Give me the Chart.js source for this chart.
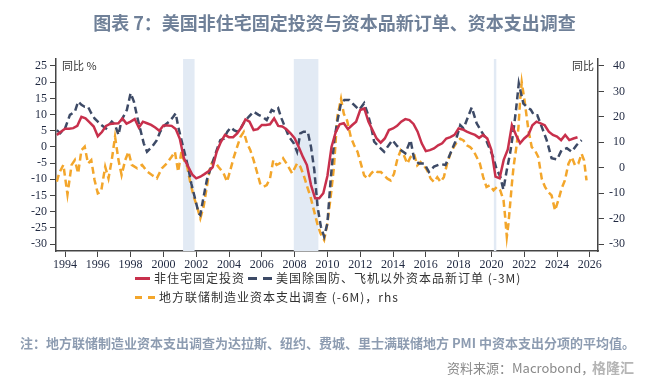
<!DOCTYPE html>
<html>
<head>
<meta charset="utf-8">
<script src="https://cdn.jsdelivr.net/npm/chart.js@4.4.1/dist/chart.umd.min.js"></script>
<style>
    body { margin: 0; background: #fff; }
    #wrap { position: relative; width: 669px; height: 384px; overflow: hidden; font-family: "Noto Sans CJK SC", sans-serif; }
    #capexChart { position: absolute; left: 0; top: 0; }
    .txt { position: absolute; white-space: nowrap; }
    .title { left: 0; top: 9px; width: 669px; text-align: center; font-size: 18px; font-weight: bold; color: #6f8098; }
    .unit { font-size: 11px; color: #333; top: 57px; }
    .leg { font-size: 12px; color: #333; letter-spacing: 1px; }
    .swatch { position: absolute; height: 3px; }
    .note { left: 20px; top: 333px; font-size: 13px; font-weight: bold; color: #8d9cb1; }
    .source { left: 447px; top: 358px; font-size: 13px; color: #8a8a8a; }
    .mark { left: 592px; top: 357px; font-size: 14px; color: #b5b5b5; font-weight: bold; }
</style>
</head>
<body>
<div id="wrap">
    <canvas id="capexChart" width="669" height="384"></canvas>
    <div class="txt title">图表 7：美国非住宅固定投资与资本品新订单、资本支出调查</div>
    <div class="txt unit" style="left:62px">同比 %</div>
    <div class="txt unit" style="left:572px">同比</div>

    <div class="swatch" style="left:135px; top:277px; width:15px; background:#c8304c"></div>
    <div class="txt leg" style="left:154px; top:269px">非住宅固定投资</div>
    <div class="swatch" style="left:248px; top:277px; width:24px; background:repeating-linear-gradient(to right,#3d4a66 0 9px,transparent 9px 15px)"></div>
    <div class="txt leg" style="left:276px; top:269px">美国除国防、飞机以外资本品新订单 (-3M)</div>
    <div class="swatch" style="left:135px; top:296px; width:20px; background:repeating-linear-gradient(to right,#f3a62b 0 7px,transparent 7px 13px)"></div>
    <div class="txt leg" style="left:159px; top:288px">地方联储制造业资本支出调查 (-6M)，rhs</div>

    <div class="txt note">注：地方联储制造业资本支出调查为达拉斯、纽约、费城、里士满联储地方 PMI 中资本支出分项的平均值。</div>
    <div class="txt source">资料来源：Macrobond，</div>
    <div class="txt mark">格隆汇</div>
</div>

<script>

const yearTicks = [1994, 1996, 1998, 2000, 2002, 2004, 2006, 2008, 2010, 2012, 2014, 2016, 2018, 2020, 2022, 2024, 2026];
const leftTicks = [25, 20, 15, 10, 5, 0, -5, -10, -15, -20, -25, -30];
const rightTicks = [40, 30, 20, 10, 0, -10, -20, -30];

const recessionStarts = [2001.2, 2007.95, 2020.15];
const recessionEnds = [2001.9, 2009.45, 2020.3];

// quarterly, from 1993 Q3
const investStart = 1993.5;
const investValues = [
    3.7, 4.7,
    5.6, 5.6, 5.8, 6.5,
    9.3, 8.8, 7.6, 6.3,
    3.3, 4.6, 6.5, 7.1,
    7.2, 7.3, 8.8, 7.2,
    7.8, 8.6, 6.0, 7.8,
    7.3, 6.8, 6.0, 5.0,
    6.6, 6.6, 6.5, 5.5,
    2.5, -3.5, -6.0, -8.5,
    -9.7, -9.2, -8.4, -7.5,
    -6.3, -1.5, 1.5, 3.7,
    3.0, 3.0, 4.2, 6.0,
    8.5, 7.8, 5.2, 5.5,
    6.8, 6.8, 7.0, 8.8,
    6.5, 6.3, 5.5, 4.2,
    2.7, 0.0, -3.0, -5.6,
    -11.8, -15.9, -15.9, -14.3,
    -9.0, 0.0, 4.5, 7.0,
    7.3, 5.5, 6.7, 7.8,
    11.4, 11.9, 7.8, 5.2,
    2.6, 1.3, 2.6, 5.2,
    5.7, 6.5, 7.8, 8.6,
    8.3, 7.1, 4.7, 1.1,
    -1.3, -1.0, -0.5, 0.5,
    1.1, 2.6, 3.0, 3.7,
    5.7, 5.4, 4.7, 4.2,
    3.7, 2.8, 3.7, 2.6,
    -1.0, -9.2, -9.7, -4.0,
    -0.8, 6.7, 3.7, 1.1,
    2.6, 3.7, 6.7, 7.8,
    7.3, 6.7, 4.7, 3.7,
    3.2, 2.1, 3.7, 2.1,
    2.6, 3.0
];

const ordersDates = [
    1993.5, 1993.7, 1994.0, 1994.3, 1994.6, 1994.8, 1995.0, 1995.2, 1995.4, 1995.6, 1995.8,
    1996.0, 1996.2, 1996.5, 1996.85, 1997.05, 1997.26, 1997.45, 1997.77, 1998.0, 1998.2, 1998.4,
    1998.6, 1998.8, 1999.0, 1999.3, 1999.6, 1999.8, 2000.1, 2000.35, 2000.6, 2000.75, 2000.9,
    2001.1, 2001.3, 2001.5, 2001.7, 2001.95, 2002.15, 2002.25, 2002.45, 2002.65, 2002.85,
    2003.05, 2003.25, 2003.47, 2003.7, 2003.9, 2004.1, 2004.3, 2004.5, 2004.7, 2004.95,
    2005.2, 2005.5, 2005.8, 2006.05, 2006.3, 2006.6, 2006.8, 2007.0, 2007.2, 2007.4, 2007.65,
    2007.95, 2008.15, 2008.35, 2008.55, 2008.8, 2009.0, 2009.2, 2009.4, 2009.6, 2009.8, 2010.0,
    2010.2, 2010.42, 2010.6, 2010.83, 2011.03, 2011.33, 2011.64, 2011.94, 2012.24, 2012.45,
    2012.65, 2012.85, 2013.15, 2013.46, 2013.75, 2013.96, 2014.2, 2014.47, 2014.75, 2015.07,
    2015.3, 2015.58, 2015.9, 2016.19, 2016.5, 2016.9, 2017.2, 2017.5, 2017.8, 2018.1, 2018.3,
    2018.5, 2018.8, 2019.1, 2019.4, 2019.6, 2019.8, 2020.1, 2020.3, 2020.54, 2020.73, 2020.94,
    2021.14, 2021.35, 2021.5, 2021.67, 2021.95, 2022.15, 2022.4, 2022.6, 2022.8, 2023.07,
    2023.37, 2023.67, 2024.0, 2024.28, 2024.6, 2024.9, 2025.2, 2025.5
];
const ordersValues = [
    5.2, 4.2, 5.7, 9.9, 10.9, 14.0, 13.0, 12.4, 12.4, 10.4, 8.8,
    7.8, 6.8, 5.7, 7.8, 6.8, 3.7, 8.3, 11.4, 16.6, 14.0, 9.3,
    5.2, 1.1, -1.5, 0.0, 2.1, 4.7, 6.8, 7.8, 9.3, 10.4, 6.3,
    2.1, -2.0, -6.1, -11.3, -16.4, -20.5, -21.0, -15.4, -10.2, -7.1,
    -4.0, -1.0, 2.1, 2.6, 4.7, 6.0, 5.2, 4.7, 5.7, 7.8,
    9.3, 10.9, 9.9, 9.3, 8.3, 11.4, 10.9, 11.9, 8.8, 6.3, 3.2,
    1.1, -1.5, 4.2, 4.7, 4.7, 0.0, -7.1, -18.5, -24.6, -27.7, -23.6,
    -10.0, 2.1, 7.8, 13.5, 14.5, 14.5, 12.9, 11.4, 13.5, 10.4,
    6.7, 1.6, 0.0, -1.5, 0.6, 2.1, 0.6, -1.0, -2.0, 2.1,
    -4.0, -5.1, -5.1, -7.7, -6.1, -5.3, -5.6, -2.0, 1.6, 6.7, 5.7,
    8.3, 12.2, 7.3, 4.7, 3.1, 0.6, -3.0, -6.6, -9.2, -13.2, -7.1,
    -2.0, 5.2, 11.4, 19.6, 13.4, 12.4, 11.5, 9.8, 9.8, 6.2,
    2.1, -3.5, -3.9, -1.0, -0.4, -1.5, 0.6, 2.1
];

const surveyDates = [
    1993.5, 1993.65, 1993.9, 1994.15, 1994.4, 1994.6, 1994.8, 1995.0, 1995.2, 1995.4, 1995.6,
    1995.8, 1996.0, 1996.2, 1996.45, 1996.65, 1996.85, 1997.05, 1997.26, 1997.45, 1997.67, 1997.87,
    1998.07, 1998.4, 1998.7, 1999.0, 1999.3, 1999.6, 1999.9, 2000.2, 2000.5, 2000.7, 2000.9,
    2001.1, 2001.2, 2001.45, 2001.65, 2001.85, 2002.05, 2002.25, 2002.45, 2002.65, 2002.85,
    2003.05, 2003.35, 2003.67, 2003.88, 2004.08, 2004.3, 2004.5, 2004.7, 2004.9, 2005.1, 2005.3,
    2005.5, 2005.7, 2005.9, 2006.1, 2006.3, 2006.5, 2006.7, 2006.9, 2007.1, 2007.3, 2007.5,
    2007.85, 2008.15, 2008.35, 2008.55, 2008.77, 2008.97, 2009.17, 2009.38, 2009.58, 2009.8, 2010.0,
    2010.2, 2010.4, 2010.6, 2010.83, 2011.0, 2011.2, 2011.43, 2011.63, 2011.84, 2012.04, 2012.24,
    2012.45, 2012.65, 2012.85, 2013.05, 2013.26, 2013.46, 2013.66, 2013.86, 2014.06, 2014.27, 2014.47,
    2014.67, 2014.87, 2015.07, 2015.28, 2015.48, 2015.68, 2015.88, 2016.08, 2016.3, 2016.5, 2016.7,
    2016.9, 2017.1, 2017.3, 2017.5, 2017.7, 2017.9, 2018.1, 2018.3, 2018.5, 2018.7, 2018.9,
    2019.1, 2019.3, 2019.5, 2019.7, 2019.9, 2020.13, 2020.33, 2020.54, 2020.74, 2020.84, 2020.94,
    2021.04, 2021.25, 2021.35, 2021.55, 2021.65, 2021.75, 2021.85, 2022.05, 2022.26, 2022.46, 2022.66,
    2022.86, 2023.07, 2023.27, 2023.47, 2023.67, 2023.88, 2024.08, 2024.28, 2024.48, 2024.7, 2024.9,
    2025.1, 2025.3, 2025.5, 2025.65, 2025.8
];
const surveyValues = [
    -5.5, -2.0, 1.1, -10.5, 1.1, 3.0, -2.2, 6.9, 8.3, 1.7, 3.0,
    -4.8, -10.1, -9.4, 0.4, -4.2, 3.0, 12.2, 3.0, -2.9, 3.0, 6.3,
    1.1, -0.2, 1.1, -1.5, -2.9, -4.2, -0.3, 1.7, 4.3, 6.3, -1.6,
    6.4, 3.8, 0.4, -6.2, -11.4, -15.3, -19.9, -15.3, -7.5, 0.4,
    3.0, 0.4, -2.2, -5.5, -0.9, 4.3, 8.3, 12.2, 14.1, 9.6, 6.9,
    3.0, -1.6, -6.2, -7.5, -6.8, -4.2, 3.0, 1.1, 1.7, 3.7, 1.7,
    -2.2, 1.7, 0.4, -2.9, -7.5, -11.4, -16.6, -21.9, -25.8, -28.4, -21.9,
    -11.4, 0.4, 19.9, 27.1, 21.2, 18.6, 12.0, 8.8, 6.2, 1.6, -3.0,
    -4.3, -2.4, -1.0, -1.7, -1.7, -3.0, -4.3, -5.0, -2.4, 3.5, 6.8,
    4.8, 1.6, 4.2, 5.5, 0.9, 2.2, 0.9, -1.0, -4.3, -5.6, -3.7,
    -5.6, -3.7, 1.6, 5.5, 8.1, 10.1, 11.4, 10.7, 8.8, 8.1, 6.8,
    4.2, 1.6, -3.7, -7.6, -6.9, -8.9, -7.6, -8.9, -12.8, -19.4, -27.2,
    -22.0, -6.3, 0.3, 9.4, 16.0, 26.4, 33.6, 25.0, 14.7, 8.1, 6.8,
    4.2, -4.3, -7.6, -9.6, -10.9, -16.8, -12.8, -8.2, -5.0, 1.6, 4.2,
    0.9, 1.6, 5.5, 2.9, -5.0
];

const investPoints = investValues.map((v, i) => ({ x: investStart + i * 0.25, y: v }));
const ordersPoints = ordersDates.map((d, i) => ({ x: d, y: ordersValues[i] }));
const surveyPoints = surveyDates.map((d, i) => ({ x: d, y: surveyValues[i] }));

const recessionBands = {
    id: "recessionBands",
    beforeDatasetsDraw(chart) {
        const { ctx, chartArea, scales } = chart;
        ctx.save();
        ctx.fillStyle = "#e2eaf4";
        recessionStarts.forEach((s, i) => {
            const x0 = scales.x.getPixelForValue(s);
            const x1 = scales.x.getPixelForValue(recessionEnds[i]);
            ctx.fillRect(x0, chartArea.top, x1 - x0, chartArea.bottom - chartArea.top);
        });
        ctx.restore();
    }
};

const tickFont = { family: "'Liberation Serif', serif", size: 12 };
const axisBorder = { display: true, color: "#444", width: 1.5 };

const ctx = document.getElementById("capexChart");

new Chart(ctx, {

    type: "line",

    data: {
        datasets: [
            {
                label: "非住宅固定投资",
                data: investPoints,
                borderColor: "#c8304c",
                borderWidth: 2.5,
                pointRadius: 0,
                yAxisID: "y"
            },
            {
                label: "美国除国防、飞机以外资本品新订单 (-3M)",
                data: ordersPoints,
                borderColor: "#3d4a66",
                borderWidth: 2.5,
                borderDash: [7, 4],
                pointRadius: 0,
                yAxisID: "y"
            },
            {
                label: "地方联储制造业资本支出调查 (-6M)，rhs",
                data: surveyPoints,
                borderColor: "#f3a62b",
                borderWidth: 2.5,
                borderDash: [7, 4],
                pointRadius: 0,
                yAxisID: "y1"
            }
        ]
    },

    options: {
        responsive: false,
        animation: false,
        devicePixelRatio: 1,
        layout: {
            padding: { left: 16, right: 44, top: 59, bottom: 109 }
        },
        plugins: {
            legend: { display: false },
            tooltip: { enabled: false }
        },
        scales: {
            x: {
                type: "linear",
                min: 1993.45,
                max: 2026.5,
                afterBuildTicks: (scale) => { scale.ticks = yearTicks.map(v => ({ value: v })); },
                afterFit: (scale) => { scale.height = 24; },
                grid: { drawOnChartArea: false, tickLength: 6, color: "#444" },
                border: axisBorder,
                ticks: {
                    font: tickFont,
                    color: "#1f2840",
                    padding: 1,
                    maxRotation: 0,
                    autoSkip: false,
                    callback: (v) => String(v)
                }
            },
            y: {
                position: "left",
                min: -32.16,
                max: 27.16,
                afterBuildTicks: (scale) => { scale.ticks = leftTicks.map(v => ({ value: v })); },
                afterFit: (scale) => { scale.width = 40; },
                grid: { drawOnChartArea: false, tickLength: 6, color: "#444" },
                border: axisBorder,
                ticks: { font: tickFont, color: "#1f2840", padding: 3 }
            },
            y1: {
                position: "right",
                min: -32.75,
                max: 42.75,
                afterBuildTicks: (scale) => { scale.ticks = rightTicks.map(v => ({ value: v })); },
                afterFit: (scale) => { scale.width = 27; },
                grid: { drawOnChartArea: false, tickLength: 6, color: "#444" },
                border: axisBorder,
                ticks: { font: tickFont, color: "#1f2840", padding: 3, crossAlign: "far" }
            }
        }
    },

    plugins: [recessionBands]

});

</script>
</body>
</html>
